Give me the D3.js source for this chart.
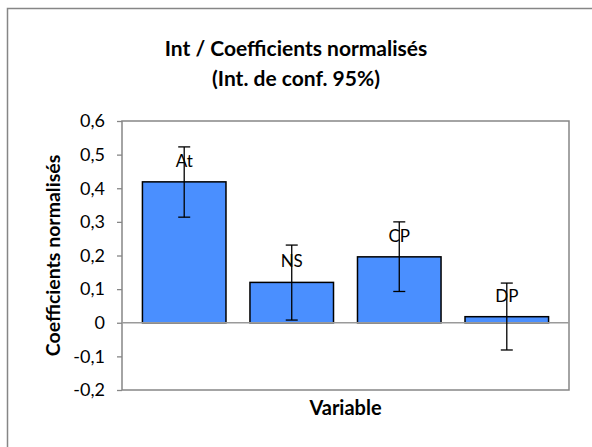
<!DOCTYPE html>
<html><head><meta charset="utf-8">
<script src="https://cdn.jsdelivr.net/npm/d3@7"></script>
<style>body{margin:0;background:#fff}svg{display:block}</style>
</head><body>
<script>
const categories = ["At", "NS", "CP", "DP"];
const values = [0.419, 0.120, 0.196, 0.018];
const ciLow = [0.314, 0.008, 0.093, -0.081];
const ciHigh = [0.523, 0.231, 0.300, 0.118];
const yTicks = [-0.2, -0.1, 0, 0.1, 0.2, 0.3, 0.4, 0.5, 0.6];

const W = 592, H = 447;
const plot = {l: 122, r: 569, t: 121, b: 390};
const font = "Lato, 'Liberation Sans', sans-serif";

const svg = d3.select("body").append("svg").attr("width", W).attr("height", H);

// outer frame
svg.append("rect").attr("x", 7.5).attr("y", 8.5).attr("width", 600).attr("height", 500)
  .attr("fill", "#fff").attr("stroke", "#868686").attr("stroke-width", 1.5);

const x = d3.scaleBand().domain(categories).range([plot.l, plot.r])
  .paddingInner(0.223).paddingOuter(0.19);
const y = d3.scaleLinear().domain([-0.2, 0.6]).range([plot.b, plot.t]);

// plot border
svg.append("rect").attr("x", plot.l).attr("y", plot.t)
  .attr("width", plot.r - plot.l).attr("height", plot.b - plot.t)
  .attr("fill", "none").attr("stroke", "#868686").attr("stroke-width", 1.5);

// y axis
const fmt = d => d === 0 ? "0" : (d < 0 ? "-" : "") + d3.format(".1f")(Math.abs(d)).replace(".", ",");
const yAxis = svg.append("g").attr("transform", `translate(${plot.l},0)`)
  .call(d3.axisLeft(y).tickValues(yTicks).tickFormat(fmt).tickSize(5).tickPadding(12));
yAxis.select(".domain").remove();
yAxis.selectAll(".tick line").attr("stroke", "#868686").attr("stroke-width", 1.3);
yAxis.selectAll(".tick text").attr("font-family", font).attr("font-size", 18).attr("fill", "#000");

// bars
svg.append("g").selectAll("rect").data(categories).join("rect")
  .attr("x", d => x(d)).attr("width", x.bandwidth())
  .attr("y", (d, i) => y(Math.max(0, values[i])))
  .attr("height", (d, i) => Math.abs(y(values[i]) - y(0)))
  .attr("fill", "#4A8FFF").attr("stroke", "#000").attr("stroke-width", 1.5);

// zero line
svg.append("line").attr("x1", plot.l).attr("x2", plot.r).attr("y1", y(0)).attr("y2", y(0))
  .attr("stroke", "#9a9a9a").attr("stroke-width", 1.5);

// labels
svg.append("g").selectAll("text").data(categories).join("text")
  .attr("x", d => x(d) + x.bandwidth() / 2)
  .attr("y", (d, i) => y(values[i]) - 15)
  .attr("text-anchor", "middle").attr("font-family", font).attr("font-size", 17)
  .attr("fill", "#000").text(d => d);

// error bars
const eb = svg.append("g").attr("stroke", "#000").attr("stroke-width", 1.3);
categories.forEach((c, i) => {
  const cx = x(c) + x.bandwidth() / 2;
  eb.append("line").attr("x1", cx).attr("x2", cx).attr("y1", y(ciLow[i])).attr("y2", y(ciHigh[i]));
  [ciLow[i], ciHigh[i]].forEach(v => eb.append("line")
    .attr("x1", cx - 6).attr("x2", cx + 6).attr("y1", y(v)).attr("y2", y(v)));
});

// titles
const title = svg.append("text").attr("text-anchor", "middle").attr("font-family", font)
  .attr("font-weight", "bold").attr("font-size", 21).attr("fill", "#000");
title.append("tspan").attr("x", 296).attr("y", 56).text("Int / Coefficients normalisés");
title.append("tspan").attr("x", 296).attr("y", 86).text("(Int. de conf. 95%)");

svg.append("text").attr("x", (plot.l + plot.r) / 2).attr("y", 415)
  .attr("text-anchor", "middle").attr("font-family", font).attr("font-weight", "bold")
  .attr("font-size", 20).text("Variable");

svg.append("text").attr("transform", `translate(60,${(plot.t + plot.b) / 2}) rotate(-90)`)
  .attr("text-anchor", "middle").attr("font-family", font).attr("font-weight", "bold")
  .attr("font-size", 19.5).text("Coefficients normalisés");
</script>
</body></html>
